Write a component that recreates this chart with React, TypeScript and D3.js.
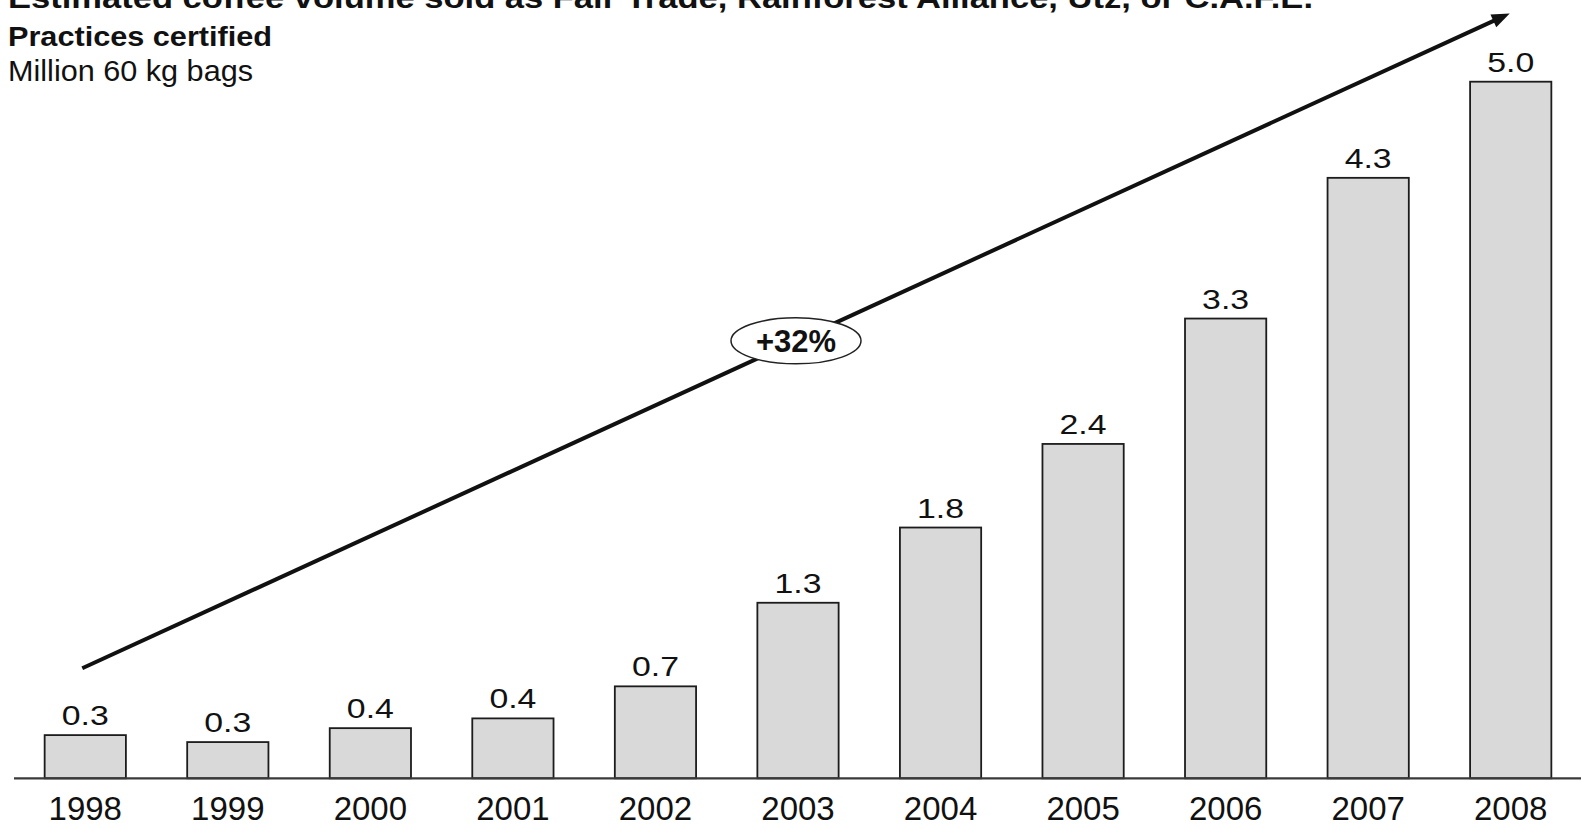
import React from 'react'
import * as d3 from 'd3'

const years = ['1998', '1999', '2000', '2001', '2002', '2003', '2004', '2005', '2006', '2007', '2008']
const volumes = [0.31, 0.26, 0.36, 0.43, 0.66, 1.26, 1.8, 2.4, 3.3, 4.31, 5.0]
const titleLines = [
  'Estimated coffee volume sold as Fair Trade, Rainforest Alliance, Utz, or C.A.F.E.',
  'Practices certified',
]
const unitLabel = 'Million 60 kg bags'
const growthLabel = '+32%'
// trend arrow, in data terms: [year, value]
const trendFrom: [string, number] = ['1998', 0.79]
const trendTo: [string, number] = ['2008', 5.49]

const W = 1581
const H = 828
const font = 'Liberation Sans, Arial, Helvetica, sans-serif'

export default function App() {
  const x = d3.scaleBand().domain(years).range([14, 1582]).paddingInner(0.43).paddingOuter(0.215)
  const y = d3.scaleLinear().domain([0, 5]).range([778.3, 81.7])
  const base = y(0)
  const cx = (yr: string) => (x(yr) ?? 0) + x.bandwidth() / 2

  // arrow geometry
  const x1 = cx(trendFrom[0]) - 3
  const y1 = y(trendFrom[1])
  const x2 = cx(trendTo[0]) - 1
  const y2 = y(trendTo[1])
  const ang = Math.atan2(y2 - y1, x2 - x1)
  const headLen = 18
  const headW = 7
  const bx = x2 - headLen * Math.cos(ang)
  const by = y2 - headLen * Math.sin(ang)
  const head = [
    [x2, y2],
    [bx + headW * Math.sin(ang), by - headW * Math.cos(ang)],
    [bx - headW * Math.sin(ang), by + headW * Math.cos(ang)],
  ]
  const mx = (x1 + x2) / 2
  const my = (y1 + y2) / 2

  return (
    <svg
      width={W}
      height={H}
      style={{ position: 'absolute', left: 0, top: 0, background: '#fff' }}
      fontFamily={font}
    >
      <text x={8} y={8} fontSize={29} fontWeight="bold" fill="#111" textLength={1305} lengthAdjust="spacingAndGlyphs">
        {titleLines[0]}
      </text>
      <text x={8} y={46} fontSize={28} fontWeight="bold" fill="#111" textLength={264} lengthAdjust="spacingAndGlyphs">
        {titleLines[1]}
      </text>
      <text x={8} y={81} fontSize={29} fill="#111" textLength={245} lengthAdjust="spacingAndGlyphs">
        {unitLabel}
      </text>

      {volumes.map((v, i) => (
        <g key={years[i]}>
          <rect
            x={x(years[i])}
            y={y(v)}
            width={x.bandwidth()}
            height={base - y(v)}
            fill="#d9d9d9"
            stroke="#1c1c1c"
            strokeWidth={1.8}
          />
          <text
            x={cx(years[i])}
            y={y(v) - 10}
            textAnchor="middle"
            fontSize={27}
            fill="#111"
            textLength={47}
            lengthAdjust="spacingAndGlyphs"
          >
            {v.toFixed(1)}
          </text>
          <text x={cx(years[i])} y={820} textAnchor="middle" fontSize={33} fill="#111">
            {years[i]}
          </text>
        </g>
      ))}

      <line x1={14} x2={W} y1={base} y2={base} stroke="#3a3a3a" strokeWidth={2.2} />

      <line x1={x1} y1={y1} x2={bx + 2 * Math.cos(ang)} y2={by + 2 * Math.sin(ang)} stroke="#111" strokeWidth={4} />
      <polygon points={head.map((p) => p.join(',')).join(' ')} fill="#111" />

      <ellipse cx={mx} cy={my} rx={65} ry={23} fill="#fff" stroke="#222" strokeWidth={1.5} />
      <text x={mx} y={my + 11} textAnchor="middle" fontSize={31} fontWeight="bold" fill="#111">
        {growthLabel}
      </text>
    </svg>
  )
}
